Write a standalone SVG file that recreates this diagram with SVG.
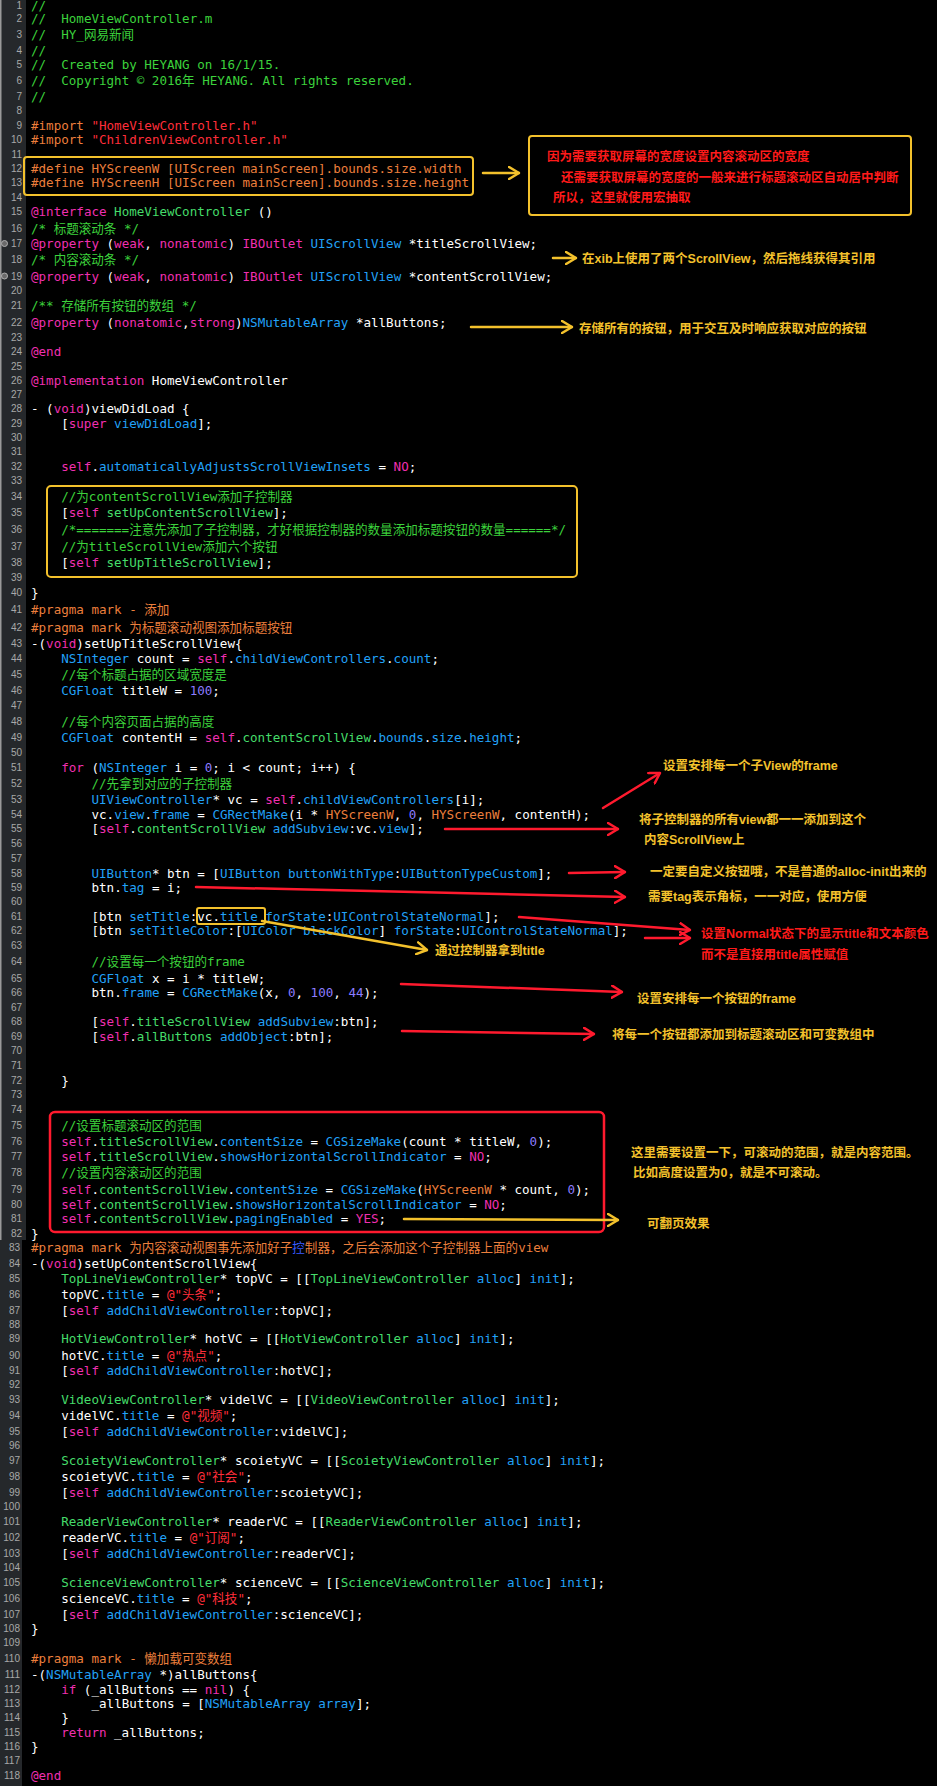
<svg xmlns="http://www.w3.org/2000/svg" width="937" height="1786" viewBox="0 0 937 1786" xml:space="preserve">
<style>
text{white-space:pre}
.code{font-family:"DejaVu Sans Mono","Noto Sans CJK SC",monospace;font-size:12.56px;fill:#ffffff}
.k{fill:#f02fb0}
.t{fill:#22a2f8}
.p{fill:#45dc6a}
.cm{fill:#3cd23c}
.pp{fill:#ec7f3c}
.s{fill:#ff2e3a}
.n{fill:#8c7cff}
.ln{font-family:"Liberation Sans",sans-serif;font-size:10px;fill:#a8a8a8;text-anchor:end}
.note{font-family:"Liberation Sans","Noto Sans CJK SC",sans-serif;font-size:12.5px;font-weight:bold}
.ny{fill:#f3c12c}
.nr{fill:#ff1a1a}
.by{fill:none;stroke:#f3c12c;stroke-width:2}
.br{fill:none;stroke:#ff1a2e;stroke-width:2.5}
.ay{fill:none;stroke:#f3c12c;stroke-width:2.5;stroke-linecap:round}
.ar{fill:none;stroke:#ff1a2e;stroke-width:2.5;stroke-linecap:round}
.dot{fill:#6a6a6a;stroke:#b0b0b0;stroke-width:1}
</style>
<defs>
<marker id="hy" viewBox="0 0 12 14" refX="11" refY="7" markerWidth="12" markerHeight="14" markerUnits="userSpaceOnUse" orient="auto"><path d="M1,1 L11,7 L1,13" fill="none" stroke="#f3c12c" stroke-width="2.5" stroke-linecap="round" stroke-linejoin="round"/></marker>
<marker id="hr" viewBox="0 0 12 14" refX="11" refY="7" markerWidth="12" markerHeight="14" markerUnits="userSpaceOnUse" orient="auto"><path d="M1,1 L11,7 L1,13" fill="none" stroke="#ff1a2e" stroke-width="2.5" stroke-linecap="round" stroke-linejoin="round"/></marker>
</defs>
<rect x="0" y="0" width="937" height="1786" fill="#000000"/>
<g id="gutter">
<rect x="0" y="0" width="26" height="1240" fill="#25282b"/>
<rect x="0" y="1240" width="22" height="546" fill="#25282b"/>
<rect x="0" y="0" width="1.5" height="1240" fill="#9a9a9a"/>
<circle class="dot" cx="4.5" cy="243.5" r="3"/>
<circle class="dot" cx="4.5" cy="276" r="3"/>
<text class="ln" x="22" y="9">1</text>
<text class="ln" x="22" y="21.5">2</text>
<text class="ln" x="22" y="37.5">3</text>
<text class="ln" x="22" y="53.5">4</text>
<text class="ln" x="22" y="67.5">5</text>
<text class="ln" x="22" y="83.5">6</text>
<text class="ln" x="22" y="99.5">7</text>
<text class="ln" x="22" y="113.5">8</text>
<text class="ln" x="22" y="128.5">9</text>
<text class="ln" x="22" y="142.5">10</text>
<text class="ln" x="22" y="157.5">11</text>
<text class="ln" x="22" y="171.5">12</text>
<text class="ln" x="22" y="186">13</text>
<text class="ln" x="22" y="200.5">14</text>
<text class="ln" x="22" y="214.5">15</text>
<text class="ln" x="22" y="231.5">16</text>
<text class="ln" x="22" y="247">17</text>
<text class="ln" x="22" y="263">18</text>
<text class="ln" x="22" y="279.5">19</text>
<text class="ln" x="22" y="293.5">20</text>
<text class="ln" x="22" y="308.5">21</text>
<text class="ln" x="22" y="326">22</text>
<text class="ln" x="22" y="340.5">23</text>
<text class="ln" x="22" y="354.5">24</text>
<text class="ln" x="22" y="369.5">25</text>
<text class="ln" x="22" y="383.5">26</text>
<text class="ln" x="22" y="397.5">27</text>
<text class="ln" x="22" y="412">28</text>
<text class="ln" x="22" y="426.5">29</text>
<text class="ln" x="22" y="440.5">30</text>
<text class="ln" x="22" y="454.5">31</text>
<text class="ln" x="22" y="469.5">32</text>
<text class="ln" x="22" y="483.5">33</text>
<text class="ln" x="22" y="500">34</text>
<text class="ln" x="22" y="515.5">35</text>
<text class="ln" x="22" y="532.5">36</text>
<text class="ln" x="22" y="549.5">37</text>
<text class="ln" x="22" y="565.5">38</text>
<text class="ln" x="22" y="580.5">39</text>
<text class="ln" x="22" y="595.5">40</text>
<text class="ln" x="22" y="612.5">41</text>
<text class="ln" x="22" y="630.5">42</text>
<text class="ln" x="22" y="646.5">43</text>
<text class="ln" x="22" y="661.5">44</text>
<text class="ln" x="22" y="677.5">45</text>
<text class="ln" x="22" y="693.5">46</text>
<text class="ln" x="22" y="708.5">47</text>
<text class="ln" x="22" y="724.5">48</text>
<text class="ln" x="22" y="740.5">49</text>
<text class="ln" x="22" y="755.5">50</text>
<text class="ln" x="22" y="770.5">51</text>
<text class="ln" x="22" y="786.5">52</text>
<text class="ln" x="22" y="802.5">53</text>
<text class="ln" x="22" y="817.5">54</text>
<text class="ln" x="22" y="831.5">55</text>
<text class="ln" x="22" y="846.5">56</text>
<text class="ln" x="22" y="861.5">57</text>
<text class="ln" x="22" y="876.5">58</text>
<text class="ln" x="22" y="890.5">59</text>
<text class="ln" x="22" y="904.5">60</text>
<text class="ln" x="22" y="919.5">61</text>
<text class="ln" x="22" y="933.5">62</text>
<text class="ln" x="22" y="948.5">63</text>
<text class="ln" x="22" y="964.5">64</text>
<text class="ln" x="22" y="981.5">65</text>
<text class="ln" x="22" y="995.5">66</text>
<text class="ln" x="22" y="1010.5">67</text>
<text class="ln" x="22" y="1024.5">68</text>
<text class="ln" x="22" y="1039.5">69</text>
<text class="ln" x="22" y="1053.5">70</text>
<text class="ln" x="22" y="1068.5">71</text>
<text class="ln" x="22" y="1083.5">72</text>
<text class="ln" x="22" y="1097.5">73</text>
<text class="ln" x="22" y="1112.5">74</text>
<text class="ln" x="22" y="1128.5">75</text>
<text class="ln" x="22" y="1144.5">76</text>
<text class="ln" x="22" y="1159.5">77</text>
<text class="ln" x="22" y="1175.5">78</text>
<text class="ln" x="22" y="1192.5">79</text>
<text class="ln" x="22" y="1207.5">80</text>
<text class="ln" x="22" y="1221.5">81</text>
<text class="ln" x="22" y="1236.5">82</text>
<text class="ln" x="20" y="1250.5">83</text>
<text class="ln" x="20" y="1266.5">84</text>
<text class="ln" x="20" y="1281.5">85</text>
<text class="ln" x="20" y="1297.5">86</text>
<text class="ln" x="20" y="1313.5">87</text>
<text class="ln" x="20" y="1327.5">88</text>
<text class="ln" x="20" y="1341.5">89</text>
<text class="ln" x="20" y="1358.5">90</text>
<text class="ln" x="20" y="1373.5">91</text>
<text class="ln" x="20" y="1387.5">92</text>
<text class="ln" x="20" y="1402.5">93</text>
<text class="ln" x="20" y="1418.5">94</text>
<text class="ln" x="20" y="1434.5">95</text>
<text class="ln" x="20" y="1448.5">96</text>
<text class="ln" x="20" y="1463.5">97</text>
<text class="ln" x="20" y="1479.5">98</text>
<text class="ln" x="20" y="1495.5">99</text>
<text class="ln" x="20" y="1509.5">100</text>
<text class="ln" x="20" y="1524.5">101</text>
<text class="ln" x="20" y="1540.5">102</text>
<text class="ln" x="20" y="1556.5">103</text>
<text class="ln" x="20" y="1570.5">104</text>
<text class="ln" x="20" y="1585.5">105</text>
<text class="ln" x="20" y="1601.5">106</text>
<text class="ln" x="20" y="1617.5">107</text>
<text class="ln" x="20" y="1631.5">108</text>
<text class="ln" x="20" y="1645.5">109</text>
<text class="ln" x="20" y="1661.5">110</text>
<text class="ln" x="20" y="1677.5">111</text>
<text class="ln" x="20" y="1692.5">112</text>
<text class="ln" x="20" y="1706.5">113</text>
<text class="ln" x="20" y="1720.5">114</text>
<text class="ln" x="20" y="1735.5">115</text>
<text class="ln" x="20" y="1749.5">116</text>
<text class="ln" x="20" y="1763.5">117</text>
<text class="ln" x="20" y="1778.5">118</text>
</g>
<g id="code">
<text class="code cm" x="31" y="10">//</text>
<text class="code cm" x="31" y="22.5">//&#160;&#160;HomeViewController.m</text>
<text class="code cm" x="31" y="38.5">//&#160;&#160;HY_网易新闻</text>
<text class="code cm" x="31" y="54.5">//</text>
<text class="code cm" x="31" y="68.5">//&#160;&#160;Created by HEYANG on 16/1/15.</text>
<text class="code cm" x="31" y="84.5">//&#160;&#160;Copyright © 2016年 HEYANG. All rights reserved.</text>
<text class="code cm" x="31" y="100.5">//</text>
<text class="code" x="31" y="129.5"><tspan class="pp">#import</tspan><tspan class="s">&#160;"HomeViewController.h"</tspan></text>
<text class="code" x="31" y="143.5"><tspan class="pp">#import</tspan><tspan class="s">&#160;"ChildrenViewController.h"</tspan></text>
<text class="code pp" x="31" y="172.5">#define HYScreenW [UIScreen mainScreen].bounds.size.width</text>
<text class="code pp" x="31" y="187">#define HYScreenH [UIScreen mainScreen].bounds.size.height</text>
<text class="code" x="31" y="215.5"><tspan class="k">@interface</tspan>&#160;<tspan class="p">HomeViewController</tspan>&#160;()</text>
<text class="code cm" x="31" y="232.5">/* 标题滚动条 */</text>
<text class="code" x="31" y="248"><tspan class="k">@property</tspan>&#160;(<tspan class="k">weak</tspan>,&#160;<tspan class="k">nonatomic</tspan>)&#160;<tspan class="k">IBOutlet</tspan>&#160;<tspan class="t">UIScrollView</tspan>&#160;*titleScrollView;</text>
<text class="code cm" x="31" y="264">/* 内容滚动条 */</text>
<text class="code" x="31" y="280.5"><tspan class="k">@property</tspan>&#160;(<tspan class="k">weak</tspan>,&#160;<tspan class="k">nonatomic</tspan>)&#160;<tspan class="k">IBOutlet</tspan>&#160;<tspan class="t">UIScrollView</tspan>&#160;*contentScrollView;</text>
<text class="code cm" x="31" y="309.5">/** 存储所有按钮的数组 */</text>
<text class="code" x="31" y="327"><tspan class="k">@property</tspan>&#160;(<tspan class="k">nonatomic</tspan>,<tspan class="k">strong</tspan>)<tspan class="t">NSMutableArray</tspan>&#160;*allButtons;</text>
<text class="code k" x="31" y="355.5">@end</text>
<text class="code" x="31" y="384.5"><tspan class="k">@implementation</tspan>&#160;HomeViewController</text>
<text class="code" x="31" y="413">- (<tspan class="k">void</tspan>)viewDidLoad {</text>
<text class="code" x="61.2" y="427.5">[<tspan class="k">super</tspan>&#160;<tspan class="t">viewDidLoad</tspan>];</text>
<text class="code" x="61.2" y="470.5"><tspan class="k">self</tspan>.<tspan class="t">automaticallyAdjustsScrollViewInsets</tspan>&#160;=&#160;<tspan class="k">NO</tspan>;</text>
<text class="code cm" x="61.2" y="501">//为contentScrollView添加子控制器</text>
<text class="code" x="61.2" y="516.5">[<tspan class="k">self</tspan>&#160;<tspan class="p">setUpContentScrollView</tspan>];</text>
<text class="code cm" x="61.2" y="533.5">/*=======注意先添加了子控制器，才好根据控制器的数量添加标题按钮的数量======*/</text>
<text class="code cm" x="61.2" y="550.5">//为titleScrollView添加六个按钮</text>
<text class="code" x="61.2" y="566.5">[<tspan class="k">self</tspan>&#160;<tspan class="p">setUpTitleScrollView</tspan>];</text>
<text class="code" x="31" y="596.5">}</text>
<text class="code pp" x="31" y="613.5">#pragma mark - 添加</text>
<text class="code pp" x="31" y="631.5">#pragma mark 为标题滚动视图添加标题按钮</text>
<text class="code" x="31" y="647.5">-(<tspan class="k">void</tspan>)setUpTitleScrollView{</text>
<text class="code" x="61.2" y="662.5"><tspan class="t">NSInteger</tspan>&#160;count = <tspan class="k">self</tspan>.<tspan class="t">childViewControllers</tspan>.<tspan class="t">count</tspan>;</text>
<text class="code cm" x="61.2" y="678.5">//每个标题占据的区域宽度是</text>
<text class="code" x="61.2" y="694.5"><tspan class="t">CGFloat</tspan>&#160;titleW = <tspan class="n">100</tspan>;</text>
<text class="code cm" x="61.2" y="725.5">//每个内容页面占据的高度</text>
<text class="code" x="61.2" y="741.5"><tspan class="t">CGFloat</tspan>&#160;contentH = <tspan class="k">self</tspan>.<tspan class="p">contentScrollView</tspan>.<tspan class="t">bounds</tspan>.<tspan class="t">size</tspan>.<tspan class="t">height</tspan>;</text>
<text class="code" x="61.2" y="771.5"><tspan class="k">for</tspan>&#160;(<tspan class="t">NSInteger</tspan>&#160;i = <tspan class="n">0</tspan>; i &lt; count; i++) {</text>
<text class="code cm" x="91.5" y="787.5">//先拿到对应的子控制器</text>
<text class="code" x="91.5" y="803.5"><tspan class="t">UIViewController</tspan>* vc = <tspan class="k">self</tspan>.<tspan class="t">childViewControllers</tspan>[i];</text>
<text class="code" x="91.5" y="818.5">vc.<tspan class="t">view</tspan>.<tspan class="t">frame</tspan>&#160;=&#160;<tspan class="t">CGRectMake</tspan>(i *&#160;<tspan class="pp">HYScreenW</tspan>,&#160;<tspan class="n">0</tspan>,&#160;<tspan class="pp">HYScreenW</tspan>, contentH);</text>
<text class="code" x="91.5" y="832.5">[<tspan class="k">self</tspan>.<tspan class="p">contentScrollView</tspan>&#160;<tspan class="t">addSubview</tspan>:vc.<tspan class="t">view</tspan>];</text>
<text class="code" x="91.5" y="877.5"><tspan class="t">UIButton</tspan>* btn = [<tspan class="t">UIButton</tspan>&#160;<tspan class="t">buttonWithType</tspan>:<tspan class="t">UIButtonTypeCustom</tspan>];</text>
<text class="code" x="91.5" y="891.5">btn.<tspan class="t">tag</tspan>&#160;= i;</text>
<text class="code" x="91.5" y="920.5">[btn&#160;<tspan class="t">setTitle</tspan>:vc.<tspan class="t">title</tspan>&#160;<tspan class="t">forState</tspan>:<tspan class="t">UIControlStateNormal</tspan>];</text>
<text class="code" x="91.5" y="934.5">[btn&#160;<tspan class="t">setTitleColor</tspan>:[<tspan class="t">UIColor</tspan>&#160;<tspan class="t">blackColor</tspan>]&#160;<tspan class="t">forState</tspan>:<tspan class="t">UIControlStateNormal</tspan>];</text>
<text class="code cm" x="91.5" y="965.5">//设置每一个按钮的frame</text>
<text class="code" x="91.5" y="982.5"><tspan class="t">CGFloat</tspan>&#160;x = i * titleW;</text>
<text class="code" x="91.5" y="996.5">btn.<tspan class="t">frame</tspan>&#160;=&#160;<tspan class="t">CGRectMake</tspan>(x,&#160;<tspan class="n">0</tspan>,&#160;<tspan class="n">100</tspan>,&#160;<tspan class="n">44</tspan>);</text>
<text class="code" x="91.5" y="1025.5">[<tspan class="k">self</tspan>.<tspan class="p">titleScrollView</tspan>&#160;<tspan class="t">addSubview</tspan>:btn];</text>
<text class="code" x="91.5" y="1040.5">[<tspan class="k">self</tspan>.<tspan class="p">allButtons</tspan>&#160;<tspan class="t">addObject</tspan>:btn];</text>
<text class="code" x="61.2" y="1084.5">}</text>
<text class="code cm" x="61.2" y="1129.5">//设置标题滚动区的范围</text>
<text class="code" x="61.2" y="1145.5"><tspan class="k">self</tspan>.<tspan class="p">titleScrollView</tspan>.<tspan class="t">contentSize</tspan>&#160;=&#160;<tspan class="t">CGSizeMake</tspan>(count * titleW,&#160;<tspan class="n">0</tspan>);</text>
<text class="code" x="61.2" y="1160.5"><tspan class="k">self</tspan>.<tspan class="p">titleScrollView</tspan>.<tspan class="t">showsHorizontalScrollIndicator</tspan>&#160;=&#160;<tspan class="k">NO</tspan>;</text>
<text class="code cm" x="61.2" y="1176.5">//设置内容滚动区的范围</text>
<text class="code" x="61.2" y="1193.5"><tspan class="k">self</tspan>.<tspan class="p">contentScrollView</tspan>.<tspan class="t">contentSize</tspan>&#160;=&#160;<tspan class="t">CGSizeMake</tspan>(<tspan class="pp">HYScreenW</tspan>&#160;* count,&#160;<tspan class="n">0</tspan>);</text>
<text class="code" x="61.2" y="1208.5"><tspan class="k">self</tspan>.<tspan class="p">contentScrollView</tspan>.<tspan class="t">showsHorizontalScrollIndicator</tspan>&#160;=&#160;<tspan class="k">NO</tspan>;</text>
<text class="code" x="61.2" y="1222.5"><tspan class="k">self</tspan>.<tspan class="p">contentScrollView</tspan>.<tspan class="t">pagingEnabled</tspan>&#160;=&#160;<tspan class="k">YES</tspan>;</text>
<text class="code" x="31" y="1237.5">}</text>
<text class="code pp" x="31" y="1251.5">#pragma mark 为内容滚动视图事先添加好子<tspan fill="#3b5cff">控</tspan>制器，之后会添加这个子控制器上面的view</text>
<text class="code" x="31" y="1267.5">-(<tspan class="k">void</tspan>)setUpContentScrollView{</text>
<text class="code" x="61.2" y="1282.5"><tspan class="p">TopLineViewController</tspan>* topVC = [[<tspan class="p">TopLineViewController</tspan>&#160;<tspan class="t">alloc</tspan>]&#160;<tspan class="t">init</tspan>];</text>
<text class="code" x="61.2" y="1298.5">topVC.<tspan class="t">title</tspan>&#160;=&#160;<tspan class="s">@"头条"</tspan>;</text>
<text class="code" x="61.2" y="1314.5">[<tspan class="k">self</tspan>&#160;<tspan class="t">addChildViewController</tspan>:topVC];</text>
<text class="code" x="61.2" y="1342.5"><tspan class="p">HotViewController</tspan>* hotVC = [[<tspan class="p">HotViewController</tspan>&#160;<tspan class="t">alloc</tspan>]&#160;<tspan class="t">init</tspan>];</text>
<text class="code" x="61.2" y="1359.5">hotVC.<tspan class="t">title</tspan>&#160;=&#160;<tspan class="s">@"热点"</tspan>;</text>
<text class="code" x="61.2" y="1374.5">[<tspan class="k">self</tspan>&#160;<tspan class="t">addChildViewController</tspan>:hotVC];</text>
<text class="code" x="61.2" y="1403.5"><tspan class="p">VideoViewController</tspan>* videlVC = [[<tspan class="p">VideoViewController</tspan>&#160;<tspan class="t">alloc</tspan>]&#160;<tspan class="t">init</tspan>];</text>
<text class="code" x="61.2" y="1419.5">videlVC.<tspan class="t">title</tspan>&#160;=&#160;<tspan class="s">@"视频"</tspan>;</text>
<text class="code" x="61.2" y="1435.5">[<tspan class="k">self</tspan>&#160;<tspan class="t">addChildViewController</tspan>:videlVC];</text>
<text class="code" x="61.2" y="1464.5"><tspan class="p">ScoietyViewController</tspan>* scoietyVC = [[<tspan class="p">ScoietyViewController</tspan>&#160;<tspan class="t">alloc</tspan>]&#160;<tspan class="t">init</tspan>];</text>
<text class="code" x="61.2" y="1480.5">scoietyVC.<tspan class="t">title</tspan>&#160;=&#160;<tspan class="s">@"社会"</tspan>;</text>
<text class="code" x="61.2" y="1496.5">[<tspan class="k">self</tspan>&#160;<tspan class="t">addChildViewController</tspan>:scoietyVC];</text>
<text class="code" x="61.2" y="1525.5"><tspan class="p">ReaderViewController</tspan>* readerVC = [[<tspan class="p">ReaderViewController</tspan>&#160;<tspan class="t">alloc</tspan>]&#160;<tspan class="t">init</tspan>];</text>
<text class="code" x="61.2" y="1541.5">readerVC.<tspan class="t">title</tspan>&#160;=&#160;<tspan class="s">@"订阅"</tspan>;</text>
<text class="code" x="61.2" y="1557.5">[<tspan class="k">self</tspan>&#160;<tspan class="t">addChildViewController</tspan>:readerVC];</text>
<text class="code" x="61.2" y="1586.5"><tspan class="p">ScienceViewController</tspan>* scienceVC = [[<tspan class="p">ScienceViewController</tspan>&#160;<tspan class="t">alloc</tspan>]&#160;<tspan class="t">init</tspan>];</text>
<text class="code" x="61.2" y="1602.5">scienceVC.<tspan class="t">title</tspan>&#160;=&#160;<tspan class="s">@"科技"</tspan>;</text>
<text class="code" x="61.2" y="1618.5">[<tspan class="k">self</tspan>&#160;<tspan class="t">addChildViewController</tspan>:scienceVC];</text>
<text class="code" x="31" y="1632.5">}</text>
<text class="code pp" x="31" y="1662.5">#pragma mark - 懒加载可变数组</text>
<text class="code" x="31" y="1678.5">-(<tspan class="t">NSMutableArray</tspan>&#160;*)allButtons{</text>
<text class="code" x="61.2" y="1693.5"><tspan class="k">if</tspan>&#160;(_allButtons ==&#160;<tspan class="k">nil</tspan>) {</text>
<text class="code" x="91.5" y="1707.5">_allButtons = [<tspan class="t">NSMutableArray</tspan>&#160;<tspan class="t">array</tspan>];</text>
<text class="code" x="61.2" y="1721.5">}</text>
<text class="code" x="61.2" y="1736.5"><tspan class="k">return</tspan>&#160;_allButtons;</text>
<text class="code" x="31" y="1750.5">}</text>
<text class="code k" x="31" y="1779.5">@end</text>
</g>
<g id="define-box"><rect class="by" x="24" y="157" width="449" height="38" rx="3"/></g>
<g id="note-macro">
<rect class="by" x="529" y="136" width="382" height="79" rx="3"/>
<text class="note nr" x="547" y="160.5">因为需要获取屏幕的宽度设置内容滚动区的宽度</text>
<text class="note nr" x="561" y="181.5">还需要获取屏幕的宽度的一般来进行标题滚动区自动居中判断</text>
<text class="note nr" x="553" y="201.5">所以，这里就使用宏抽取</text>
</g>
<g id="note-xib"><text class="note ny" x="582" y="262.5">在xib上使用了两个ScrollView，然后拖线获得其引用</text></g>
<g id="note-allbuttons"><text class="note ny" x="579" y="333">存储所有的按钮，用于交互及时响应获取对应的按钮</text></g>
<g id="viewdidload-box"><rect class="by" x="47" y="486" width="530" height="91" rx="4"/></g>
<g id="note-subview-frame"><text class="note ny" x="663" y="769.5">设置安排每一个子View的frame</text></g>
<g id="note-addsubview">
<text class="note ny" x="639" y="823.5">将子控制器的所有view都一一添加到这个</text>
<text class="note ny" x="644" y="843.5">内容ScrollView上</text>
</g>
<g id="note-custom"><text class="note ny" x="650" y="875.5">一定要自定义按钮哦，不是普通的alloc-init出来的</text></g>
<g id="note-tag"><text class="note ny" x="648" y="900.5">需要tag表示角标，一一对应，使用方便</text></g>
<g id="note-normal">
<text class="note nr" x="701" y="937.5">设置Normal状态下的显示title和文本颜色</text>
<text class="note nr" x="701" y="958.5">而不是直接用title属性赋值</text>
</g>
<g id="vctitle-box"><rect class="by" x="197" y="908" width="68" height="16" rx="2"/></g>
<g id="note-vctitle"><text class="note ny" x="435" y="954.5">通过控制器拿到title</text></g>
<g id="note-btn-frame"><text class="note ny" x="637" y="1002.5">设置安排每一个按钮的frame</text></g>
<g id="note-add-btn"><text class="note ny" x="612" y="1038.5">将每一个按钮都添加到标题滚动区和可变数组中</text></g>
<g id="scroll-range-box"><rect class="br" x="50" y="1112" width="554" height="120" rx="5"/></g>
<g id="note-range">
<text class="note ny" x="631" y="1156.5">这里需要设置一下，可滚动的范围，就是内容范围。</text>
<text class="note ny" x="633" y="1176.5">比如高度设置为0，就是不可滚动。</text>
</g>
<g id="note-paging"><text class="note ny" x="647" y="1227.5">可翻页效果</text></g>
<g id="connectors">
<line class="ay" x1="483" y1="173" x2="519" y2="173" marker-end="url(#hy)"/>
<line class="ay" x1="553" y1="258" x2="576" y2="258" marker-end="url(#hy)"/>
<line class="ay" x1="471" y1="327" x2="572" y2="327" marker-end="url(#hy)"/>
<line class="ar" x1="603" y1="808" x2="660" y2="773" marker-end="url(#hr)"/>
<line class="ar" x1="445" y1="829" x2="618" y2="829" marker-end="url(#hr)"/>
<line class="ar" x1="569" y1="873" x2="625" y2="872" marker-end="url(#hr)"/>
<line class="ar" x1="196" y1="887" x2="625" y2="897" marker-end="url(#hr)"/>
<line class="ar" x1="519" y1="917" x2="690" y2="930" marker-end="url(#hr)"/>
<line class="ar" x1="645" y1="938" x2="690" y2="938" marker-end="url(#hr)"/>
<line class="ay" x1="262" y1="921" x2="427" y2="950" marker-end="url(#hy)"/>
<line class="ar" x1="401" y1="984" x2="622" y2="992" marker-end="url(#hr)"/>
<line class="ar" x1="402" y1="1031" x2="594" y2="1034" marker-end="url(#hr)"/>
<line class="ay" x1="404" y1="1219" x2="618" y2="1220" marker-end="url(#hy)"/>
</g>
</svg>
